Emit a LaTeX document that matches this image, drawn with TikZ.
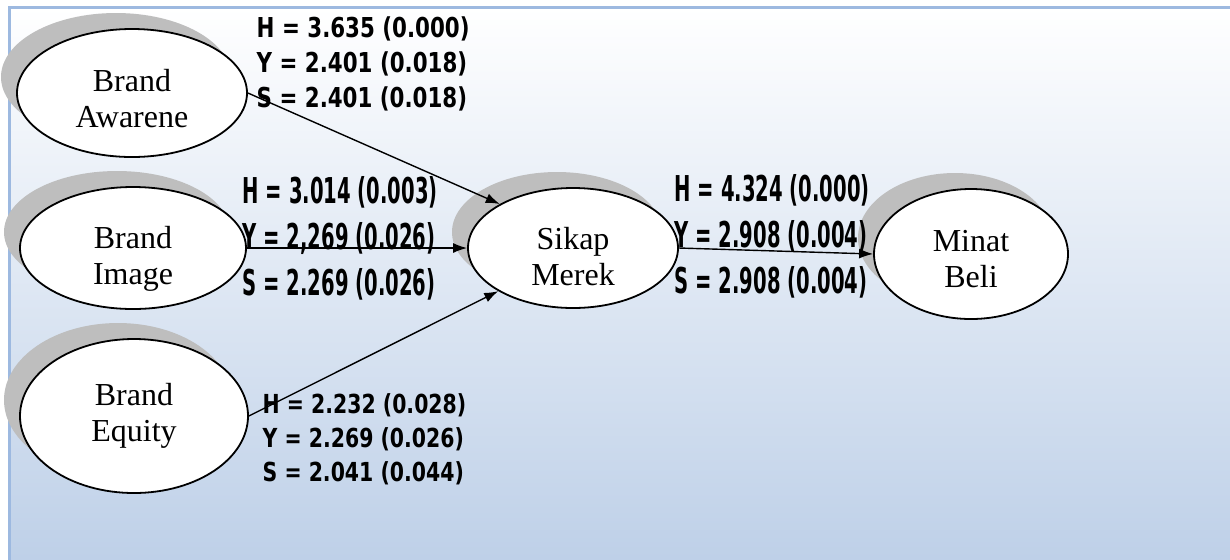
\documentclass[tikz,border=0pt]{standalone}
\usepackage{fontspec}
\setmainfont{Liberation Serif}
\newfontfamily\smalllbl[FakeStretch=0.78]{DejaVu Sans}
\newfontfamily\talllbl[FakeStretch=0.55]{DejaVu Sans}
\usepackage{xcolor}
\usetikzlibrary{shapes.geometric,shadows,arrows.meta}
\definecolor{bgblue}{RGB}{190,208,232}
\definecolor{framecol}{RGB}{157,185,224}
\definecolor{shadowgray}{RGB}{190,190,190}

\begin{document}
\begin{tikzpicture}[x=0.5pt,y=-0.5pt,
					>={Latex[length=7pt,width=5pt]},
					line width=0.7pt,
					main node/.style={ellipse,draw,line width=0.9pt,fill=white,inner sep=0pt,
						drop shadow={shadow xshift=-8pt,shadow yshift=8pt,opacity=1,fill=shadowgray}},
					inner text/.style={align=center,inner sep=0pt,font=\fontsize{16}{18}\selectfont},
					small label/.style={anchor=west,inner sep=0pt,align=left,
						font=\smalllbl\bfseries\fontsize{13.7}{17.5}\selectfont},
					tall label/.style={anchor=west,inner sep=0pt,align=left,
						font=\talllbl\bfseries\fontsize{17.8}{23}\selectfont}]

  \useasboundingbox (0,0) rectangle (1230,559);
  \clip (0,0) rectangle (1230,559);
  \shade[top color=white,bottom color=bgblue] (9,7) rectangle (1230,559);
  \draw[framecol,line width=1.5pt] (9,7) rectangle (1260,590);

  \node[main node,minimum width=115pt,minimum height=64pt,
    label={[inner text,yshift=-3pt]center:{Brand\\Awarene}}] (aw) at (132,93) {};
  \node[main node,minimum width=113pt,minimum height=61pt,
    label={[inner text,yshift=-5.5pt]center:{Brand\\Image}}] (bi) at (133,248) {};
  \node[main node,minimum width=114pt,minimum height=77pt,
    label={[inner text,yshift=0pt]center:{Brand\\Equity}}] (be) at (134,416) {};
  \node[main node,minimum width=105pt,minimum height=60pt,
    label={[inner text,yshift=-4.3pt]center:{Sikap\\Merek}}] (sm) at (573,248) {};
  \node[main node,minimum width=97pt,minimum height=65pt,
    label={[inner text,yshift=-2.3pt]center:{Minat\\Beli}}] (mb) at (971,254) {};

  \node[small label] (awlbl) at (256,64) {H = 3.635 (0.000)\\Y = 2.401 (0.018)\\S = 2.401 (0.018)};
  \node[tall label] (bilbl) at (242,238) {H = 3.014 (0.003)\\Y = 2,269 (0.026)\\S = 2.269 (0.026)};
  \node[small label,font=\smalllbl\bfseries\fontsize{13.1}{17}\selectfont] (belbl) at (262,439)
    {H = 2.232 (0.028)\\Y = 2.269 (0.026)\\S = 2.041 (0.044)};
  \node[tall label] (smlbl) at (674,236) {H = 4.324 (0.000)\\Y = 2.908 (0.004)\\S = 2.908 (0.004)};

  \path[->]
    (aw.east) edge (sm.149)
    (bi.east) edge (sm.west)
    (be.east) edge (sm.210)
    (sm.east) edge (mb.west);
\end{tikzpicture}
\end{document}
